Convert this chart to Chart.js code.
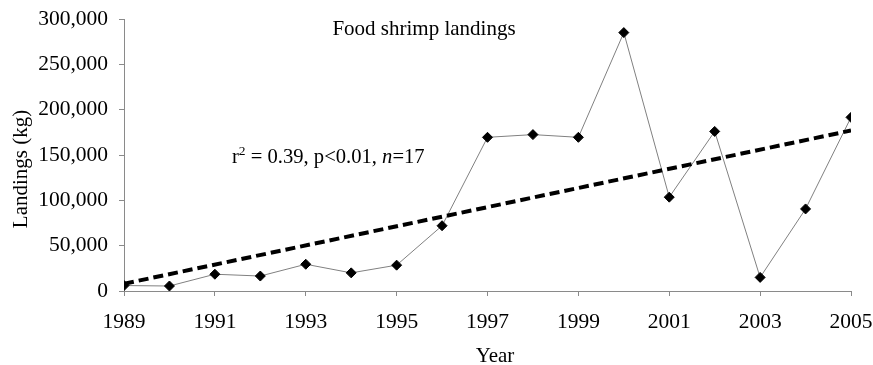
<!DOCTYPE html>
<html>
<head>
<meta charset="utf-8">
<script src="https://cdn.jsdelivr.net/npm/chart.js@4.4.1/dist/chart.umd.min.js"></script>
<style>
  html, body { margin: 0; padding: 0; background: #ffffff; }
  #wrap { width: 873px; height: 365px; }
</style>
</head>
<body>
<div id="wrap"><canvas id="chart" width="873" height="365"></canvas></div>
<script>
// Annual food shrimp landings (kg)
const years = [1989, 1990, 1991, 1992, 1993, 1994, 1995, 1996, 1997, 1998, 1999, 2000, 2001, 2002, 2003, 2004, 2005];
const landings = [6000, 5500, 18500, 16500, 29500, 20000, 28500, 72000, 169500, 172500, 169500, 285000, 103500, 176000, 15000, 90500, 191500];

// Fitted linear trend, end points
const trendYears = [1989, 2005];
const trendValues = [8000, 177000];

// Axis ticks
const yTicks = [0, 50000, 100000, 150000, 200000, 250000, 300000];
const xTicks = [1989, 1991, 1993, 1995, 1997, 1999, 2001, 2003, 2005];

const chartTitle = 'Food shrimp landings';
const xTitle = 'Year';
const yTitle = 'Landings (kg)';

const SERIF = '"Liberation Serif", "Times New Roman", Times, serif';
const AXIS_GREY = '#8a8a8a';

const textPlugin = {
  id: 'chartTexts',
  afterDraw(chart) {
    const ctx = chart.ctx;
    const area = chart.chartArea;
    ctx.save();
    ctx.fillStyle = '#000';
    ctx.textBaseline = 'alphabetic';

    // chart title inside the plot area
    ctx.font = '21px ' + SERIF;
    ctx.textAlign = 'center';
    ctx.fillText(chartTitle, 424, area.top + 16);

    // regression statistics
    ctx.textAlign = 'left';
    let x = 232;
    const base = 163;
    ctx.font = '20.6px ' + SERIF;
    ctx.fillText('r', x, base);
    x += ctx.measureText('r').width;
    ctx.font = '13.5px ' + SERIF;
    ctx.fillText('2', x, base - 8);
    x += ctx.measureText('2').width;
    ctx.font = '20.6px ' + SERIF;
    const mid = ' = 0.39, p<0.01, ';
    ctx.fillText(mid, x, base);
    x += ctx.measureText(mid).width;
    ctx.font = 'italic 20.6px ' + SERIF;
    ctx.fillText('n', x, base);
    x += ctx.measureText('n').width;
    ctx.font = '20.6px ' + SERIF;
    ctx.fillText('=17', x, base);

    // x axis title
    ctx.textAlign = 'center';
    ctx.font = '21px ' + SERIF;
    ctx.fillText(xTitle, 495, 362);

    // y axis title
    ctx.translate(27, 169);
    ctx.rotate(-Math.PI / 2);
    ctx.fillText(yTitle, 0, 0);
    ctx.restore();
  }
};

new Chart(document.getElementById('chart'), {
  type: 'line',
  data: {
    datasets: [
      {
        label: 'Trend',
        data: trendYears.map((yr, i) => ({ x: yr, y: trendValues[i] })),
        borderColor: '#000',
        borderWidth: 4,
        borderDash: [10, 5],
        pointRadius: 0,
        fill: false,
        order: 0
      },
      {
        label: 'Landings',
        data: years.map((yr, i) => ({ x: yr, y: landings[i] })),
        borderColor: '#808080',
        borderWidth: 1,
        pointStyle: 'rectRot',
        pointRadius: 5,
        pointBackgroundColor: '#000',
        pointBorderColor: '#000',
        pointBorderWidth: 1,
        fill: false,
        tension: 0,
        order: 1
      }
    ]
  },
  options: {
    responsive: false,
    devicePixelRatio: 1,
    animation: false,
    layout: { padding: { left: 0, right: 22, top: 19, bottom: 0 } },
    plugins: {
      legend: { display: false },
      tooltip: { enabled: false },
      title: { display: false }
    },
    scales: {
      x: {
        type: 'linear',
        min: xTicks[0],
        max: xTicks[xTicks.length - 1],
        afterBuildTicks(scale) { scale.ticks = xTicks.map(v => ({ value: v })); },
        afterFit(scale) {
          scale.height = 74;
          scale.paddingLeft = 0;
          scale.paddingRight = 0;
        },
        ticks: {
          callback: v => String(v),
          color: '#000',
          font: { family: SERIF, size: 21.5 },
          padding: 13,
          maxRotation: 0,
          autoSkip: false
        },
        grid: { display: true, drawOnChartArea: false, drawTicks: true, tickLength: 5, color: AXIS_GREY },
        border: { display: true, color: AXIS_GREY, width: 1 }
      },
      y: {
        type: 'linear',
        min: yTicks[0],
        max: yTicks[yTicks.length - 1],
        afterBuildTicks(scale) { scale.ticks = yTicks.map(v => ({ value: v })); },
        afterFit(scale) {
          scale.width = 124;
          scale.paddingTop = 0;
          scale.paddingBottom = 0;
        },
        ticks: {
          callback: v => Number(v).toLocaleString('en-US'),
          color: '#000',
          font: { family: SERIF, size: 21.5 },
          padding: 11
        },
        grid: { display: true, drawOnChartArea: false, drawTicks: true, tickLength: 5, color: AXIS_GREY },
        border: { display: true, color: AXIS_GREY, width: 1 }
      }
    }
  },
  plugins: [textPlugin]
});
</script>
</body>
</html>
